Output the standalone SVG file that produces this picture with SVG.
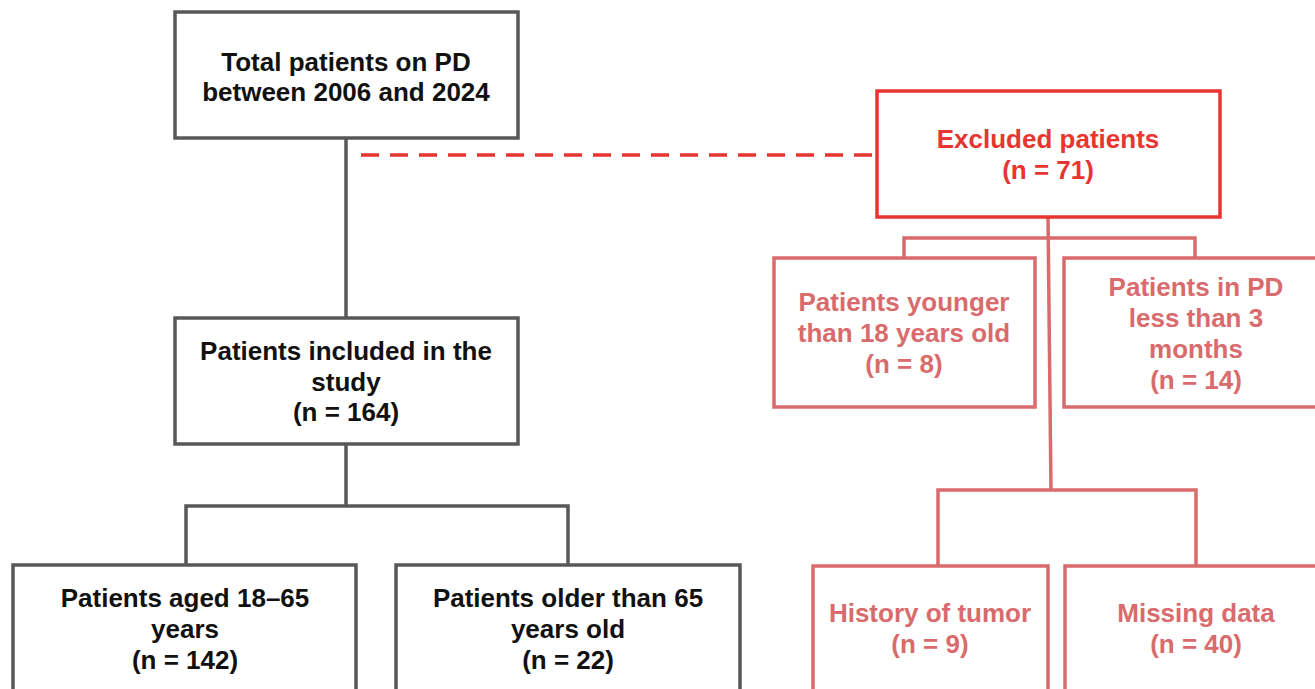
<svg xmlns="http://www.w3.org/2000/svg" width="1315" height="689" viewBox="0 0 1315 689">
<style>
.g{fill:#fff;stroke:#58585a;stroke-width:3.5}
.r{fill:#fff;stroke:#e8352f;stroke-width:3.5}
.p{fill:#fff;stroke:#d96b6c;stroke-width:3.5}
.gl{fill:none;stroke:#58585a;stroke-width:3.5}
.pl{fill:none;stroke:#d96b6c;stroke-width:3.5}
.dl{fill:none;stroke:#e8352f;stroke-width:3.5;stroke-dasharray:18 11}
text{font-family:"Liberation Sans",Arial,sans-serif;font-weight:bold;font-size:26px;text-anchor:middle}
.tg{fill:#111}
.tr{fill:#e8352f}
.tp{fill:#d96b6c}
</style>
<rect width="1315" height="689" fill="#fff"/>
<g id="connectors">
<line class="gl" x1="346" y1="138" x2="346" y2="318"/>
<line class="dl" x1="361" y1="155" x2="877" y2="155"/>
<line class="gl" x1="346" y1="444" x2="346" y2="506"/>
<polyline class="gl" points="186,565 186,506 568,506 568,565"/>
<line class="pl" x1="1048" y1="217" x2="1051" y2="490"/>
<polyline class="pl" points="904,258 904,238 1195,238 1195,258"/>
<polyline class="pl" points="938,566 938,490 1196,490 1196,566"/>
</g>
<g id="n_total">
<rect class="g" x="175" y="12" width="343" height="126"/>
<text class="tg" x="346" y="71">Total patients on PD</text>
<text class="tg" x="346" y="101">between 2006 and 2024</text>
</g>
<g id="n_excluded">
<rect class="r" x="877" y="91" width="343" height="126"/>
<text class="tr" x="1048" y="148">Excluded patients</text>
<text class="tr" x="1048" y="179">(n = 71)</text>
</g>
<g id="n_included">
<rect class="g" x="175" y="318" width="343" height="126"/>
<text class="tg" x="346" y="360">Patients included in the</text>
<text class="tg" x="346" y="391">study</text>
<text class="tg" x="346" y="421">(n = 164)</text>
</g>
<g id="n_young">
<rect class="p" x="774" y="258" width="261" height="149"/>
<text class="tp" x="904" y="311">Patients younger</text>
<text class="tp" x="904" y="342">than 18 years old</text>
<text class="tp" x="904" y="373">(n = 8)</text>
</g>
<g id="n_short">
<rect class="p" x="1064" y="258" width="270" height="149"/>
<text class="tp" x="1196" y="296">Patients in PD</text>
<text class="tp" x="1196" y="327">less than 3</text>
<text class="tp" x="1196" y="358">months</text>
<text class="tp" x="1196" y="389">(n = 14)</text>
</g>
<g id="n_aged">
<rect class="g" x="13" y="565" width="343" height="140"/>
<text class="tg" x="185" y="607">Patients aged 18–65</text>
<text class="tg" x="185" y="638">years</text>
<text class="tg" x="185" y="669">(n = 142)</text>
</g>
<g id="n_older">
<rect class="g" x="396" y="565" width="344" height="140"/>
<text class="tg" x="568" y="607">Patients older than 65</text>
<text class="tg" x="568" y="638">years old</text>
<text class="tg" x="568" y="669">(n = 22)</text>
</g>
<g id="n_tumor">
<rect class="p" x="813" y="566" width="235" height="140"/>
<text class="tp" x="930" y="622">History of tumor</text>
<text class="tp" x="930" y="653">(n = 9)</text>
</g>
<g id="n_missing">
<rect class="p" x="1065" y="566" width="270" height="140"/>
<text class="tp" x="1196" y="622">Missing data</text>
<text class="tp" x="1196" y="653">(n = 40)</text>
</g>
</svg>
